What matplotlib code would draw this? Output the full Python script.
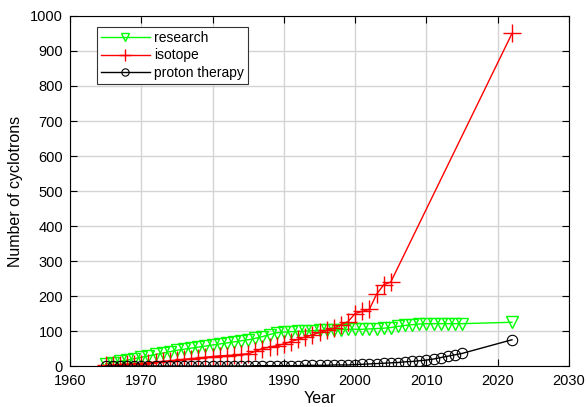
import matplotlib
matplotlib.use("Agg")
import matplotlib.pyplot as plt

plt.rcParams['font.family'] = ['Liberation Sans', 'DejaVu Sans']

years = list(range(1965, 2016)) + [2022]
research = [7, 10, 13, 17, 21, 25, 29, 33, 37, 41, 45, 48, 51, 54, 57, 60, 63, 66, 69, 72,
            75, 79, 84, 90, 95, 97, 98, 99, 100, 101, 102, 103, 104, 104, 105, 105, 105, 106,
            107, 108, 110, 113, 116, 118, 120, 121, 121, 121, 121, 121, 121, 125]

iso_years = list(range(1965, 2006)) + [2022]
isotope = [2, 3, 4, 5, 6, 7, 9, 11, 13, 15, 17, 19, 21, 23, 25, 27, 29, 30, 31, 33,
           35, 42, 50, 54, 58, 63, 70, 76, 83, 89, 96, 102, 108, 118, 127, 150, 156, 162,
           205, 232, 240, 950]

proton = [0, 0, 0, 0, 0, 0, 0, 0, 0, 0, 0, 0, 0, 0, 0, 0, 0, 0, 0, 0,
          0, 1, 1, 1, 1, 1, 1, 1, 2, 2, 2, 2, 3, 3, 3, 4, 5, 6, 7, 8,
          9, 10, 12, 13, 15, 17, 20, 24, 28, 32, 36, 75]

xticks = [1960, 1970, 1980, 1990, 2000, 2010, 2020, 2030]
yticks = list(range(0, 1001, 100))

fig = plt.figure(figsize=(5.86, 4.07), dpi=100)
ax = fig.add_axes([0.1195, 0.1007, 0.8515, 0.86])

ax.plot(years, research, color='#00ff00', lw=1, marker='v', ms=9, mfc='none',
        mec='#00ff00', label='research')
ax.plot(iso_years, isotope, color='#ff0000', lw=1, marker='+', ms=13, mew=1,
        label='isotope')
ax.plot(years, proton, color='black', lw=1, marker='o', ms=7.5, mfc='none',
        mec='black', mew=0.8, label='proton therapy')

ax.set_xlim(1960, 2030)
ax.set_ylim(0, 1000)
ax.set_xticks(xticks)
ax.set_yticks(yticks)
ax.tick_params(direction='in', top=True, right=True, labelsize=10.5, length=5, width=0.8)
ax.tick_params(axis='x', pad=6)
ax.tick_params(axis='y', pad=5)
ax.grid(True, color='#d4d4d4', lw=1)
ax.set_axisbelow(True)
for s in ax.spines.values():
    s.set_linewidth(0.8)
ax.set_xlabel('Year', fontsize=11.5, labelpad=2)
ax.set_ylabel('Number of cyclotrons', fontsize=11.5, labelpad=5)

leg = ax.legend(loc='upper left', bbox_to_anchor=(0.054, 0.969), fontsize=10,
                frameon=True, fancybox=False, edgecolor='#333333', framealpha=1,
                handlelength=3.5, borderpad=0.3, labelspacing=0.25, handletextpad=0.3,
                borderaxespad=0, markerscale=0.7)
leg.get_frame().set_linewidth(0.8)

fig.savefig('out.png', dpi=100)
